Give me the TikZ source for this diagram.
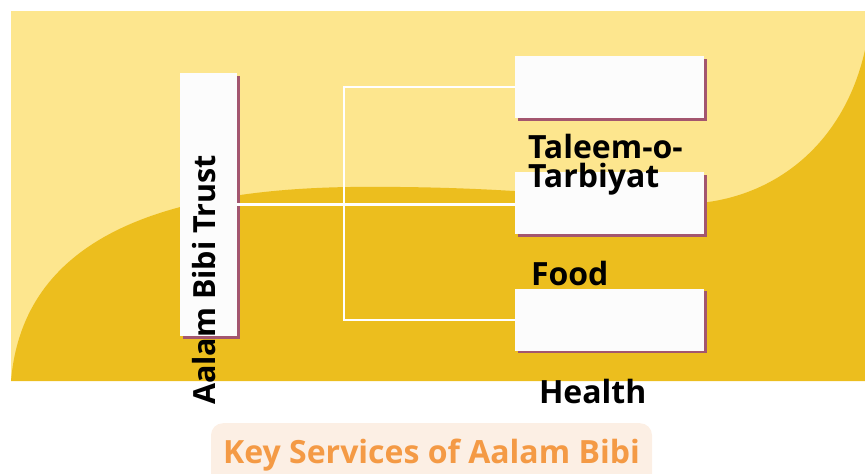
\documentclass[tikz,border=0pt]{standalone}
\usepackage{fontspec}
\setmainfont{Open Sans}
\usetikzlibrary{shadows,positioning}
\definecolor{paleyellow}{HTML}{FDE68E}
\definecolor{goldyellow}{HTML}{ECBE1E}
\definecolor{plum}{HTML}{A3566F}
\definecolor{boxwhite}{HTML}{FCFCFC}
\definecolor{peach}{HTML}{FCEFE4}
\definecolor{tangerine}{HTML}{F49A45}

\begin{document}
\begin{tikzpicture}[x=1pt,y=-1pt,node distance=54pt,
  every node/.style={font=\bfseries\fontsize{32}{29}\selectfont,inner sep=0pt},
  servicebox/.style={fill=boxwhite,minimum width=189pt,minimum height=62pt,
    drop shadow={shadow xshift=2.5pt,shadow yshift=-2.5pt,fill=plum,opacity=1}},
  link/.style={draw=white,line width=2.2pt}]
\clip (0,0) rectangle (865,474);
% backdrop
\fill[paleyellow] (11,11) rectangle (865,381);
\fill[goldyellow] (11,381) .. controls (22,250) and (140,190) .. (350,187)
  .. controls (550,185) and (640,207) .. (700,203)
  .. controls (780,195) and (845,140) .. (865,50) -- (865,381) -- cycle;
% boxes
\node [servicebox,minimum width=57pt,minimum height=263pt] (trust) at (208.5,204.5) {};
\node [servicebox] (taleem) at (609.5,87) {};
\node [servicebox,below=of taleem] (food) {};
\node [servicebox,below=of food] (health) {};
\coordinate (split) at (344,204);
\draw [link] (trust.east) -- (trust.east -| food.west);
\draw [link] (taleem.west) -| (split) |- (health.west);
% labels
\node [rotate=90,font=\bfseries\fontsize{30.5}{30}\selectfont] (trustlbl) at (204,280) {Aalam Bibi Trust};
\node [anchor=north west,align=left] (taleemlbl) at ([xshift=13pt,yshift=-16pt]taleem.south west) {Taleem-o-\\Tarbiyat};
\node [anchor=base west] (foodlbl) at ([xshift=16pt,yshift=-51pt]food.south west) {Food};
\node [anchor=base west] (healthlbl) at ([xshift=24pt,yshift=-52pt]health.south west) {Health};
\node [anchor=north,fill=peach,rounded corners=12pt,minimum width=441pt,minimum height=63pt,
  text=tangerine] (title) at (431.5,423) {Key Services of Aalam Bibi};
\end{tikzpicture}
\end{document}
